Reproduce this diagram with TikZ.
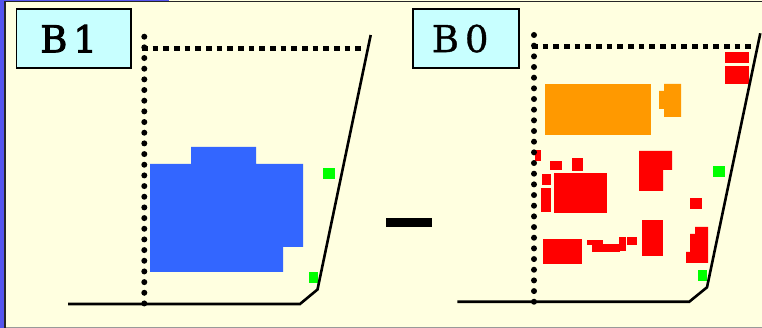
\documentclass[tikz,border=0pt]{standalone}
\usepackage{fontspec}
\setmainfont{DejaVu Serif}
\newfontfamily\semibold[FakeBold=2.5]{DejaVu Serif}
\newfontfamily\medweight[FakeBold=1]{DejaVu Serif}
\definecolor{cream}{HTML}{FFFFE0}
\definecolor{cyanbox}{HTML}{C8FFFF}
\definecolor{bluearea}{HTML}{3366FF}
\definecolor{orangearea}{HTML}{FF9900}
\definecolor{edgepurple}{HTML}{5555EE}
\tikzset{
  px/.style={x=1pt,y=-1pt},
  labelbox/.style={draw=black,line width=1.7pt,fill=cyanbox,inner sep=0pt,anchor=north west,font=\fontsize{37}{37}\selectfont},
  wall/.style={draw=black,line width=2.6pt,line join=miter},
  dotline/.style={line width=6pt,line cap=round,dash pattern=on 0pt off 10.67pt},
  sqline/.style={line width=5.5pt,dash pattern=on 5.5pt off 5.17pt},
  bluezone/.style={fill=bluearea},
  orangezone/.style={fill=orangearea},
  redb/.style={fill=red},
  greenb/.style={fill=green},
}
\begin{document}
\begin{tikzpicture}[px]
\useasboundingbox (0,0) rectangle (762,328);
\fill[cream] (0,0) rectangle (762,328);
\fill[edgepurple] (0,0) rectangle (4,328);
\fill[edgepurple] (0,0) rectangle (169,1);
\fill[black!85] (4,1) rectangle (5.5,328);
\fill[black!85] (4,1) rectangle (762,2.3);
\fill[black!40] (5.5,327) rectangle (762,328);
% left panel
\node[labelbox,minimum width=114.5pt,minimum height=59.5pt] (b1) at (15.5,8) {\raisebox{-3pt}{\semibold\hspace*{-5pt}B\hspace{6pt}1\hspace{5pt}}};
\coordinate (la) at (68,304);
\coordinate (lb) at (300,304);
\coordinate (lc) at (317.5,289.5);
\coordinate (ld) at (370.7,35);
\coordinate (lt) at (144.3,36.7);
\coordinate (lm) at (144.3,304);
\coordinate (lh) at (142,48.7);
\coordinate (lr) at (364,48.7);
\path[bluezone] (150,164) -- (191,164) -- (191,147) -- (256,147) -- (256,164) -- (303,164) -- (303,247) -- (283,247) -- (283,272) -- (150,272) -- cycle;
\path[greenb] (323,168) rectangle (335,179);
\path[greenb] (309,272) rectangle (318,283);
\draw[dotline] (lt) -- (lm);
\draw[sqline] (lh) -- (lr);
\draw[wall] (la) -- (lb) -- (lc) -- (ld);
% minus
\fill[black] (386,218) rectangle (432,227);
% right panel
\node[labelbox,minimum width=106pt,minimum height=59.5pt] (b0) at (412.3,8) {\raisebox{-3pt}{\medweight\hspace*{-6pt}B\hspace{6pt}0\hspace{6pt}}};
\coordinate (ra) at (457.3,301.7);
\coordinate (rb) at (689.3,301.7);
\coordinate (rc) at (707,287.3);
\coordinate (rd) at (760.3,33.3);
\coordinate (rt) at (534,35);
\coordinate (rm) at (534,302);
\coordinate (rh) at (532,46.7);
\coordinate (rr) at (754,46.7);
\path[orangezone] (545,84) rectangle (651,135);
\path[orangezone] (664,84) -- (681,84) -- (681,117) -- (664,117) -- (664,109) -- (659,109) -- (659,91) -- (664,91) -- cycle;
\path[redb] (725,52) rectangle (749,63);
\path[redb] (725,66) rectangle (749,84);
\path[redb] (535,150) rectangle (541,161);
\path[redb] (550,161) rectangle (562,170);
\path[redb] (572,158) rectangle (583,171);
\path[redb] (542,174) rectangle (551,185);
\path[redb] (541,188) rectangle (551,212);
\path[redb] (554,173) rectangle (607,213);
\path[redb] (543,239) rectangle (582,264);
\path[redb] (587,240) rectangle (603,245);
\path[redb] (592,244) rectangle (620,252);
\path[redb] (619,237) rectangle (626,251);
\path[redb] (627,237) rectangle (637,245);
\path[redb] (642,220) rectangle (663,256);
\path[redb] (639,151) -- (672,151) -- (672,170) -- (663,170) -- (663,191) -- (639,191) -- cycle;
\path[redb] (690,198) rectangle (702,209);
\path[redb] (695,227) -- (708,227) -- (708,263) -- (686,263) -- (686,252) -- (690,252) -- (690,234) -- (695,234) -- cycle;
\path[greenb] (713,166) rectangle (725,177);
\path[greenb] (698,270) rectangle (707,281);
\draw[dotline] (rt) -- (rm);
\draw[sqline] (rh) -- (rr);
\draw[wall] (ra) -- (rb) -- (rc) -- (rd);
\end{tikzpicture}
\end{document}
